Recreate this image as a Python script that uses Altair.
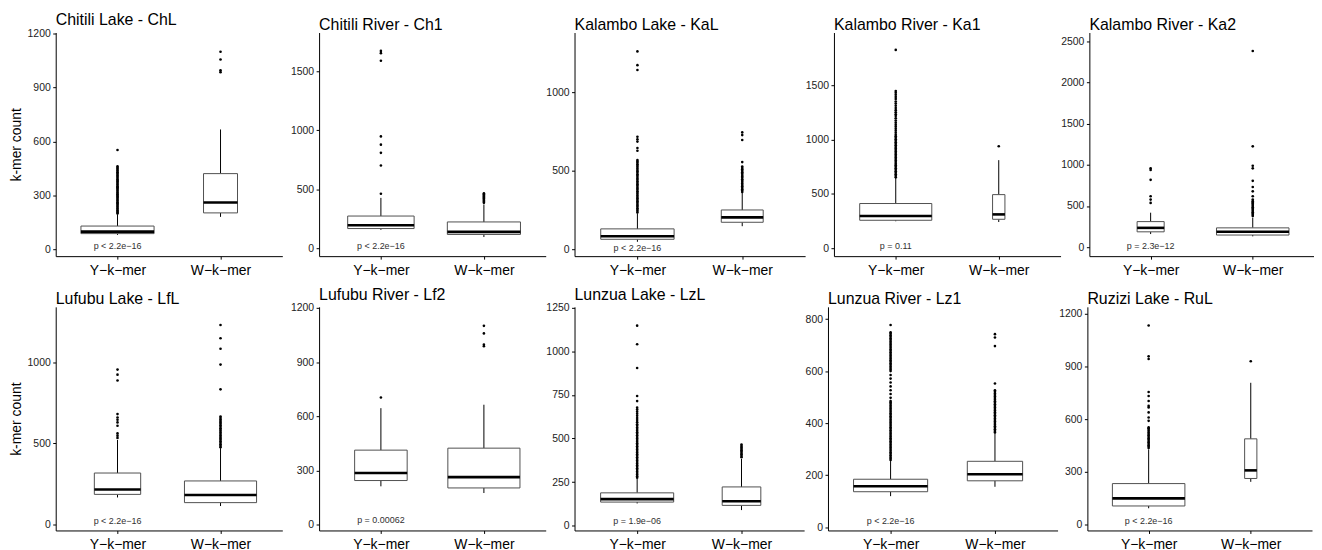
import altair as alt
import pandas as pd

FONT = "Liberation Sans"

categories = ["Y−k−mer", "W−k−mer"]

titles = [
    "Chitili Lake - ChL", "Chitili River - Ch1", "Kalambo Lake - KaL",
    "Kalambo River - Ka1", "Kalambo River - Ka2",
    "Lufubu Lake - LfL", "Lufubu River - Lf2", "Lunzua Lake - LzL",
    "Lunzua River - Lz1", "Ruzizi Lake - RuL",
]

p_labels = [
    "p < 2.2e−16", "p < 2.2e−16", "p < 2.2e−16", "p = 0.11", "p = 2.3e−12",
    "p < 2.2e−16", "p = 0.00062", "p = 1.9e−06", "p < 2.2e−16", "p < 2.2e−16",
]
p_label_y = [22, 22, 10, 24, 20, 22, 24, 28, 25, 24]

# [lower whisker, Q1, median, Q3, upper whisker]
y_kmer_stats = [
    [82, 89, 100, 131, 195],
    [156, 167, 195, 273, 427],
    [50, 66, 85, 132, 231],
    [248, 257, 296, 411, 647],
    [160, 187, 235, 311, 419],
    [165, 184, 214, 316, 520],
    [213, 245, 287, 413, 645],
    [127, 135, 152, 188, 269],
    [119, 136, 157, 184, 254],
    [94, 107, 150, 234, 428],
]
w_kmer_stats = [
    [182, 204, 262, 422, 667],
    [95, 117, 139, 223, 371],
    [149, 174, 205, 252, 360],
    [241, 266, 311, 493, 810],
    [132, 148, 187, 235, 359],
    [112, 133, 180, 267, 470],
    [176, 204, 264, 424, 664],
    [89, 116, 140, 222, 383],
    [155, 178, 203, 253, 361],
    [244, 263, 309, 488, 806],
]

y_kmer_outliers = [
    [200, 206, 212, 219, 225, 231, 238, 244, 250, 257, 263, 270, 276, 282, 289, 295, 301, 308,
     314, 320, 327, 333, 340, 346, 352, 359, 365, 372, 378, 384, 391, 397, 404, 410, 416, 423,
     429, 436, 442, 449, 455, 462, 553],
    [462, 702, 809, 878, 948, 1590, 1654, 1673],
    [236, 245, 254, 263, 272, 281, 290, 299, 308, 317, 326, 335, 344, 353, 362, 371, 380, 389,
     398, 407, 416, 425, 434, 443, 452, 461, 470, 479, 488, 497, 506, 515, 524, 533, 542, 551,
     560, 569, 628, 645, 686, 700, 717, 1140, 1171, 1258],
    [652, 666, 680, 694, 708, 722, 736, 750, 764, 778, 792, 806, 820, 834, 848, 862, 876, 890,
     904, 918, 932, 946, 960, 974, 988, 1002, 1016, 1030, 1044, 1062, 1080, 1098, 1118, 1136,
     1155, 1175, 1195, 1215, 1232, 1250, 1270, 1290, 1310, 1330, 1350, 1372, 1392, 1412, 1430,
     1446, 1824],
    [538, 578, 618, 817, 937, 957],
    [533, 547, 561, 608, 629, 645, 659, 680, 888, 924, 955],
    [704],
    [275, 284, 293, 302, 311, 320, 329, 338, 347, 356, 365, 374, 383, 392, 401, 410, 419, 428,
     437, 446, 455, 464, 473, 482, 491, 500, 509, 518, 527, 536, 545, 554, 563, 573, 582, 594,
     606, 618, 630, 642, 654, 666, 677, 715, 744, 905, 1041, 1148],
    [258, 264, 270, 276, 282, 288, 294, 300, 306, 312, 318, 324, 330, 336, 342, 348, 354, 360,
     366, 372, 378, 384, 390, 396, 402, 408, 414, 420, 426, 432, 438, 444, 450, 456, 462, 468,
     474, 480, 485, 497, 512, 526, 541, 556, 571, 585, 600, 606, 612, 618, 624, 630, 636, 642,
     648, 654, 660, 666, 672, 678, 684, 690, 696, 702, 708, 714, 720, 726, 732, 738, 744, 749,
     777],
    [436, 444, 452, 460, 468, 476, 484, 492, 500, 508, 516, 524, 532, 540, 548, 553, 590, 609,
     638, 666, 675, 703, 731, 754, 941, 956, 1131],
]
w_kmer_outliers = [
    [985, 995, 1055, 1098],
    [385, 394, 403, 412, 421, 430, 439, 448, 457, 466],
    [366, 375, 384, 393, 402, 411, 420, 429, 438, 447, 456, 465, 474, 483, 492, 501, 510, 519,
     528, 556, 696, 727, 744],
    [938],
    [379, 394, 409, 424, 439, 454, 469, 484, 499, 514, 529, 544, 559, 578, 618, 678, 730, 805,
     957, 989, 1224, 2380],
    [476, 485, 494, 503, 512, 521, 530, 539, 548, 557, 566, 575, 584, 593, 602, 611, 620, 629,
     638, 647, 656, 665, 833, 986, 1084, 1149, 1231],
    [987, 996, 1058, 1100],
    [393, 401, 409, 417, 425, 433, 441, 449, 457, 465],
    [364, 370, 376, 382, 388, 394, 400, 406, 412, 418, 424, 430, 436, 442, 448, 454, 460, 466,
     472, 478, 484, 490, 496, 502, 508, 514, 520, 526, 552, 696, 729, 742],
    [928],
]

# relative box widths (varwidth, proportional to sqrt(n))
box_rel_width = [
    [0.71, 0.33], [0.645, 0.71], [0.70, 0.40], [0.70, 0.12], [0.265, 0.71],
    [0.45, 0.70], [0.51, 0.70], [0.70, 0.37], [0.71, 0.53], [0.71, 0.12],
]

y_ticks = [
    [0, 300, 600, 900, 1200],
    [0, 500, 1000, 1500],
    [0, 500, 1000],
    [0, 500, 1000, 1500],
    [0, 500, 1000, 1500, 2000, 2500],
    [0, 500, 1000],
    [0, 300, 600, 900, 1200],
    [0, 250, 500, 750, 1000, 1250],
    [0, 200, 400, 600, 800],
    [0, 300, 600, 900, 1200],
]
y_domains = [
    [-36, 1205], [-67, 1829], [-41, 1378], [-73, 1984], [-108, 2604],
    [-39, 1343], [-31, 1205], [-28, 1256], [-13, 847], [-32, 1237],
]

# layout (pixels)
panel_widths = [228, 228, 232, 228, 226, 228, 228, 231, 231, 226]
axis_extents = [29, 37, 27, 26, 29, 29, 37, 29, 21, 30]
PANEL_H = 225


def make_panel(i):
    stats = [y_kmer_stats[i], w_kmer_stats[i]]
    rows = []
    for j in range(2):
        lw, q1, med, q3, uw = stats[j]
        pos = j + 1
        w = box_rel_width[i][j]
        rows.append(dict(pos=pos, lo=pos - w / 2, hi=pos + w / 2,
                         lw=lw, q1=q1, med=med, q3=q3, uw=uw))
    box_df = pd.DataFrame(rows)
    out_rows = [dict(pos=1, value=v) for v in y_kmer_outliers[i]] + \
               [dict(pos=2, value=v) for v in w_kmer_outliers[i]]
    out_df = pd.DataFrame(out_rows)
    txt_df = pd.DataFrame([dict(pos=1, value=p_label_y[i], label=p_labels[i])])

    xs = alt.Scale(domain=[0.4, 2.6], nice=False, zero=False)
    ys = alt.Scale(domain=y_domains[i], nice=False, zero=False)
    label_expr = "datum.value == 1 ? '%s' : '%s'" % (categories[0], categories[1])
    xaxis = alt.Axis(values=[1, 2], labelExpr=label_expr, title=None, grid=False,
                     domainColor="black", tickColor="black", tickSize=3, labelPadding=4,
                     labelFontSize=14, labelColor="black", labelFont=FONT, labelAngle=0)
    ykw = dict(values=y_ticks[i], grid=False, domainColor="black", tickColor="black",
               tickSize=3, labelPadding=2.5, labelFontSize=10.5, labelColor="#222222",
               labelFont=FONT, minExtent=axis_extents[i], maxExtent=axis_extents[i],
               format="d")
    if i % 5 == 0:
        yaxis = alt.Axis(title="k-mer count", titleFontSize=14, titleFont=FONT,
                         titleFontWeight="normal", titleColor="black", titlePadding=3, **ykw)
    else:
        yaxis = alt.Axis(title=None, **ykw)

    def X(f):
        return alt.X(f, scale=xs, axis=xaxis)

    def Y(f):
        return alt.Y(f, scale=ys, axis=yaxis)

    base = alt.Chart(box_df)
    whisk_lo = base.mark_rule(color="black", strokeWidth=1).encode(
        x=X("pos:Q"), y=Y("lw:Q"), y2="q1:Q")
    whisk_hi = base.mark_rule(color="black", strokeWidth=1).encode(
        x=X("pos:Q"), y=Y("q3:Q"), y2="uw:Q")
    box = base.mark_rect(fill="white", stroke="#505050", strokeWidth=1).encode(
        x=X("lo:Q"), x2="hi:Q", y=Y("q1:Q"), y2="q3:Q")
    median = base.mark_rule(color="black", strokeWidth=2.6).encode(
        x=X("lo:Q"), x2="hi:Q", y=Y("med:Q"))
    pts = alt.Chart(out_df).mark_circle(size=7, color="black", opacity=1).encode(
        x=X("pos:Q"), y=Y("value:Q"))
    txt = alt.Chart(txt_df).mark_text(fontSize=9, font=FONT, color="#303030").encode(
        x=X("pos:Q"), y=Y("value:Q"), text="label:N")

    return alt.layer(whisk_lo, whisk_hi, box, median, pts, txt).properties(
        width=panel_widths[i], height=PANEL_H,
        title=alt.TitleParams(titles[i], anchor="start", frame="group", fontSize=16,
                              font=FONT, fontWeight="normal", color="black", offset=0),
    )


row1 = alt.hconcat(*[make_panel(i) for i in range(5)], spacing=0)
row2 = alt.hconcat(*[make_panel(i) for i in range(5, 10)], spacing=0)
chart = alt.vconcat(row1, row2, spacing=9).properties(
    padding={"left": 2, "top": 2, "right": 0, "bottom": 0}
).configure(font=FONT, background="white").configure_view(stroke=None)

chart.save("out.html", embed_options={"renderer": "svg", "actions": False})
